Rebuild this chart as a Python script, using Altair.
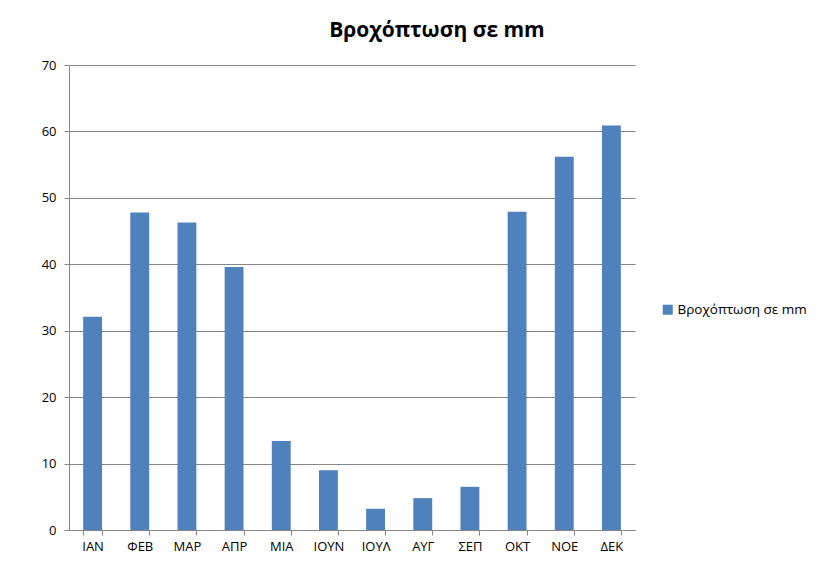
import altair as alt
import pandas as pd

months = ["ΙΑΝ", "ΦΕΒ", "ΜΑΡ", "ΑΠΡ", "ΜΙΑ", "ΙΟΥΝ", "ΙΟΥΛ", "ΑΥΓ", "ΣΕΠ", "ΟΚΤ", "ΝΟΕ", "ΔΕΚ"]
rain = [32.1, 47.8, 46.3, 39.6, 13.4, 9.0, 3.2, 4.8, 6.5, 47.9, 56.2, 60.9]
series = "Βροχόπτωση σε mm"

df = pd.DataFrame({"month": months, "rain": rain, "series": [series] * len(months)})

FONT = "Open Sans"

chart = alt.Chart(df).mark_bar(color="#4F81BD").encode(
    x=alt.X("month:N", sort=months, title=None,
            scale=alt.Scale(paddingInner=0.6, paddingOuter=0.3),
            axis=alt.Axis(labelAngle=0, tickBand="extent", tickSize=5,
                          labelPadding=5, labelFontSize=13, labelColor="#000000",
                          domainColor="#868686", tickColor="#868686", grid=False,
                          labelFont=FONT)),
    y=alt.Y("rain:Q", title=None,
            scale=alt.Scale(domain=[0, 70]),
            axis=alt.Axis(values=[0, 10, 20, 30, 40, 50, 60, 70], tickSize=5,
                          labelPadding=8, labelFontSize=13, labelColor="#000000",
                          domainColor="#868686", tickColor="#868686",
                          gridColor="#868686", gridWidth=1, labelFont=FONT)),
    color=alt.Color("series:N", scale=alt.Scale(range=["#4F81BD"]),
                    legend=alt.Legend(title=None, orient="none", legendX=592, legendY=238,
                                      symbolType="square", symbolSize=100,
                                      symbolStrokeWidth=0, labelFontSize=13.5,
                                      labelOffset=3, labelLimit=200,
                                      labelFont=FONT, labelColor="#000000")),
).properties(
    width=566, height=465,
    title=alt.TitleParams(series, fontSize=21, font=FONT, fontWeight="bold",
                          anchor="middle", dx=85, offset=18, color="#000000"),
    autosize="none",
    padding={"left": 61, "top": 57, "right": 188, "bottom": 24},
).configure_view(stroke=None)

chart.save("out.html", embed_options={"renderer": "svg", "actions": False})
